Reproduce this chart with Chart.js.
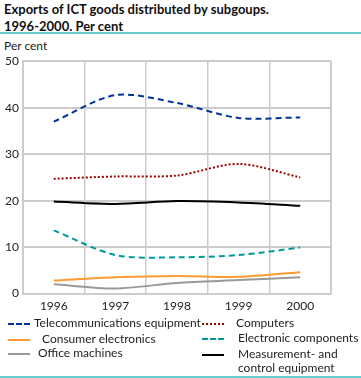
<!DOCTYPE html>
<html>
<head>
<meta charset="utf-8">
<script src="https://cdn.jsdelivr.net/npm/chart.js@4/dist/chart.umd.min.js"></script>
<style>
  body { margin: 0; width: 361px; height: 378px; position: relative; font-family: Lato, "Open Sans", sans-serif; color: #222; background: #fff; overflow: hidden; }
  #title { position: absolute; left: 4px; top: 1px; font-weight: bold; font-size: 13px; line-height: 17px; color: #111; }
  #rule1 { position: absolute; left: 0; top: 32px; width: 361px; height: 2px; background: #66cccc; }
  #unit { position: absolute; left: 4px; top: 38px; font-size: 12px; color: #222; }
  #wrap { position: absolute; left: 0; top: 50px; width: 345px; height: 268px; }
  #legend { position: absolute; left: 0; top: 314px; width: 361px; font-size: 12px; }
  .item { position: absolute; display: flex; align-items: flex-start; line-height: 14px; }
  .swatch { width: 22px; height: 0; margin-top: 7px; margin-right: 4px; }
  #rule2 { position: absolute; left: 0; top: 376px; width: 361px; height: 2px; background: #66cccc; }
</style>
</head>
<body>
<div id="title">Exports of ICT goods distributed by subgoups.<br>1996-2000. Per cent</div>
<div id="rule1"></div>
<div id="unit">Per cent</div>
<div id="wrap"><canvas id="chart"></canvas></div>
<div id="legend"></div>
<div id="rule2"></div>
<script>
// Données
const years = ['1996', '1997', '1998', '1999', '2000'];
const telecom = [37.0, 42.7, 41.0, 37.8, 37.9];
const computers = [24.7, 25.2, 25.4, 27.9, 25.0];
const consumer = [2.8, 3.5, 3.8, 3.6, 4.6];
const components = [13.6, 8.3, 7.8, 8.3, 9.9];
const office = [2.0, 1.1, 2.3, 2.9, 3.5];
const measurement = [19.8, 19.3, 19.9, 19.6, 18.9];
const yTicks = [0, 10, 20, 30, 40, 50];

const series = [
  { label: 'Telecommunications equipment', data: telecom, color: '#003399', dash: [6, 4], css: 'dashed', x: 8, y: 2, gap: 4 },
  { label: 'Computers', data: computers, color: '#990000', dash: [2, 2], css: 'dotted', x: 202, y: 2, gap: 12 },
  { label: 'Consumer electronics', data: consumer, color: '#ff9933', dash: [], css: 'solid', x: 8, y: 18, gap: 12 },
  { label: 'Electronic components', data: components, color: '#009999', dash: [6, 4], css: 'dashed', x: 202, y: 17, gap: 14 },
  { label: 'Office machines', data: office, color: '#999999', dash: [], css: 'solid', x: 8, y: 32, gap: 8 },
  { label: 'Measurement- and\ncontrol equipment', data: measurement, color: '#000000', dash: [], css: 'solid', x: 202, y: 33, gap: 14 }
];

// Légende HTML
const legend = document.getElementById('legend');
series.forEach(s => {
  const div = document.createElement('div');
  div.className = 'item';
  div.style.left = s.x + 'px';
  div.style.top = s.y + 'px';
  div.innerHTML = '<div class="swatch" style="margin-right:' + s.gap + 'px;border-top: 2px ' + s.css + ' ' + s.color + '"></div><div>' + s.label.replace('\n', '<br>') + '</div>';
  legend.appendChild(div);
});

const ctx = document.getElementById('chart').getContext('2d');
new Chart(ctx, {
  type: 'line',
  data: {
    labels: years,
    datasets: series.map(s => ({
      label: s.label,
      data: s.data,
      borderColor: s.color,
      borderWidth: 2,
      borderDash: s.dash,
      pointRadius: 0,
      tension: 0.3,
      fill: false
    }))
  },
  options: {
    responsive: true,
    maintainAspectRatio: false,
    animation: false,
    layout: { padding: { top: 9, right: 14, left: 0, bottom: 0 } },
    plugins: { legend: { display: false }, tooltip: { enabled: false } },
    scales: {
      x: {
        offset: true,
        grid: { offset: true, color: '#cccccc', lineWidth: 1.5, drawTicks: false },
        border: { color: '#cccccc', width: 2 },
        ticks: { color: '#222', font: { family: 'Lato', size: 12 }, padding: 5 }
      },
      y: {
        min: 0,
        max: 50,
        afterFit: axis => { axis.width = 23; },
        afterBuildTicks: axis => { axis.ticks = yTicks.map(v => ({ value: v })); },
        grid: { color: '#cccccc', lineWidth: 2, drawTicks: false },
        border: { color: '#cccccc', width: 2 },
        ticks: { color: '#222', font: { family: 'Lato', size: 12 }, padding: 4 }
      }
    }
  },
  plugins: [{
    id: 'rightBorder',
    afterDraw(chart) {
      const a = chart.chartArea;
      const c = chart.ctx;
      c.save();
      c.strokeStyle = '#cccccc';
      c.lineWidth = 2;
      c.beginPath();
      c.moveTo(a.right, a.top);
      c.lineTo(a.right, a.bottom);
      c.stroke();
      c.restore();
    }
  }]
});
</script>
</body>
</html>
